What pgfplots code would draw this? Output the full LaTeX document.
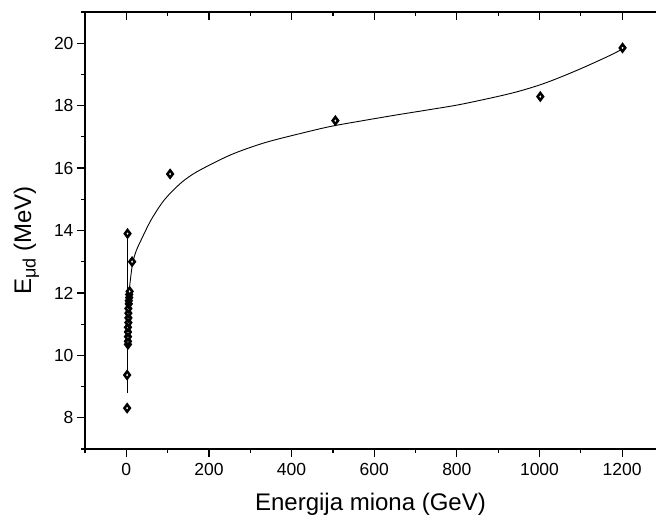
\documentclass[border=0pt]{standalone}
\usepackage{fontspec}
\setmainfont{Liberation Sans}
\usepackage{pgfplots}
\pgfplotsset{compat=1.18}
\begin{document}
\begin{tikzpicture}[x=1pt,y=1pt]
\useasboundingbox (0,0) rectangle (656,521);
\pgfplotsset{
  common/.style={
    at={(85pt,72pt)}, anchor=south west,
    scale only axis, width=571pt, height=437pt,
    xmin=-100, xmax=1282, ymin=7, ymax=21,
    axis line style={-, line width=1.6pt},
    xtick={0,200,...,1200}, minor xtick={-100,100,...,1100},
    major tick length=8pt, minor tick length=4pt,
    tick style={line width=1.2pt, black},
  }
}
% top axis with inward ticks
\begin{axis}[common,
  axis x line*=top, hide y axis,
  tick align=inside, xticklabels={},
]
\end{axis}
\begin{axis}[common,
  axis x line*=bottom, axis y line*=left,
  ytick={8,10,...,20}, minor ytick={7,9,...,21},
  tick align=outside,
  tick label style={font=\fontsize{17.5}{18}\selectfont},
  x tick label style={yshift=-3pt},
  /pgf/number format/assume math mode=true,
  /pgf/number format/1000 sep={},
  xlabel={Energija miona (GeV)},
  ylabel={E\textsubscript{\fontsize{18}{18}\selectfont μd} (MeV)},
  label style={font=\fontsize{24}{26}\selectfont},
  xlabel style={yshift=-10pt},
  ylabel style={yshift=8pt, xshift=-10pt},
  clip=false,
]
\addplot[black, line width=0.9pt] coordinates {(3,8.8) (3,13.9)};
\addplot[black, line width=0.9pt, smooth] coordinates {
(6,11.9) (8,12.2) (12,12.65) (16,13.0) (24,13.35) (36,13.7) (60,14.34) (92,14.98)
(132,15.52) (172,15.89) (252,16.42) (332,16.80) (413,17.08) (493,17.33) (573,17.52)
(653,17.70) (733,17.87) (813,18.05) (933,18.40) (1013,18.72) (1094,19.15) (1174,19.63) (1206,19.86)};
\addplot[only marks, mark=diamond*, mark size=3.6pt,
  mark options={draw=black, fill=white, line width=2.5pt}] coordinates {
(2,8.31) (2,9.37) (4,10.35) (4,10.45) (4,10.6) (4,10.75) (4,10.9) (5,11.05) (5,11.2)
(5,11.35) (5,11.5) (6,11.65) (6,11.75) (7,11.85) (7,11.95) (8,12.05) (3,13.9) (14,13.0)
(106,15.81) (506,17.52) (1002,18.29) (1201,19.85)};
\end{axis}
\end{tikzpicture}
\end{document}
